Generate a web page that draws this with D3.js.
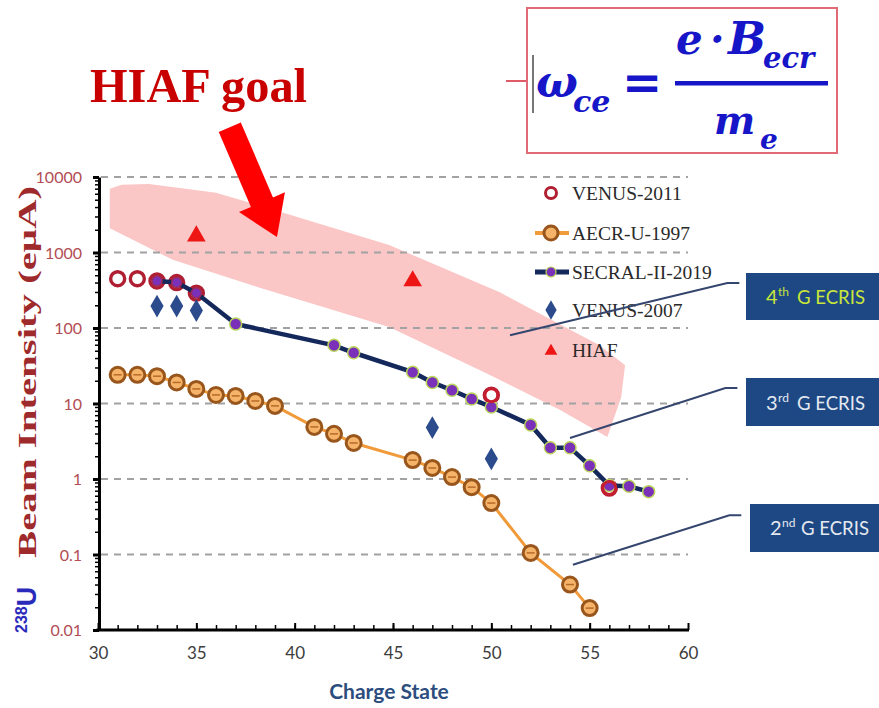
<!DOCTYPE html>
<html><head><meta charset="utf-8">
<script src="https://cdn.jsdelivr.net/npm/d3@7"></script>
<style>body{margin:0;background:#fff} svg{display:block}</style>
</head><body>
<svg id="chart" width="879" height="708"></svg>
<script>
// ---------------- data ----------------
const venus2011Q = [31,32,33,34,35,50,56];
const venus2011  = [450,450,420,400,290,12.9,0.76];

const aecrQ = [31,32,33,34,35,36,37,38,39,41,42,43,46,47,48,49,50,52,54,55];
const aecr  = [24,24,23,19,15.6,13,12.6,10.8,9.3,4.9,3.96,3.0,1.78,1.4,1.06,0.78,0.48,0.105,0.04,0.0195];

const secralQ = [33,34,35,37,42,43,46,47,48,49,50,52,53,54,55,56,57,58];
const secral  = [420,400,290,113,59,47,26,19,15,11.5,9,5.2,2.6,2.6,1.5,0.82,0.8,0.68];

const venus2007Q = [33,34,35,47,50];
const venus2007  = [195,195,170,4.8,1.85];

const hiafQ = [35,46];
const hiaf  = [1650,420];

// HIAF goal band (upper edge left->right, lower edge right->left)
const bandUpperQ = [30.6, 31.2, 32.6, 36.0, 39.8, 44.8, 50.4, 55.5, 56.8];
const bandUpper  = [7000, 7900, 8100, 6200, 3150, 1260, 300, 59, 32];
const bandLowerQ = [56.6, 55.9, 53.5, 49.9, 44.8, 38.1, 33.8, 30.6];
const bandLower  = [12, 3.6, 8.2, 24, 103, 350, 800, 2100];

const xTicks = [30,35,40,45,50,55,60];
const yTicks = [0.01,0.1,1,10,100,1000,10000];
const seriesNames = ["VENUS-2011","AECR-U-1997","SECRAL-II-2019","VENUS-2007","HIAF"];

// callout leader lines
const leaderFromQ = [50.95, 54.0, 54.15];
const leaderFromI = [80, 3.5, 0.073];
const leaderToQ   = [62.0, 61.9, 62.1];
const leaderToI   = [394, 16, 0.33];
const calloutSup  = ["th","rd","nd"];
const calloutNum  = ["4","3","2"];

// arrow (data coordinates): tail -> tip
const arrowFrom = [36.7, 45700];
const arrowTo   = [39.1, 1600];

// ---------------- scales ----------------
const svg = d3.select("#chart");
const x = d3.scaleLinear().domain([30,60]).range([98,688]);
const y = d3.scaleLog().domain([0.01,10000]).range([630,177]);

// band
const bandPts = bandUpperQ.map((q,i)=>[x(q), y(bandUpper[i])])
  .concat(bandLowerQ.map((q,i)=>[x(q), y(bandLower[i])]));
svg.append("path")
  .attr("d", d3.line().curve(d3.curveLinearClosed)(bandPts))
  .attr("fill", "#fbc6c6");

// grid
svg.append("g").selectAll("line").data(yTicks.slice(1)).join("line")
  .attr("x1", x(30)+3).attr("x2", x(60))
  .attr("y1", d=>y(d)).attr("y2", d=>y(d))
  .attr("stroke", "#a2a2a2").attr("stroke-width", 2).attr("stroke-dasharray", "7,6");

// y axis minor ticks
const minorY = [];
for (let e=-2; e<4; e++) for (let m=2; m<10; m++) minorY.push(m*Math.pow(10,e));
svg.append("g").attr("transform", `translate(${x(30)+1},0)`)
  .call(d3.axisLeft(y).tickValues(minorY).tickSize(4).tickFormat(""))
  .call(g=>g.select(".domain").remove())
  .call(g=>g.selectAll("line").attr("stroke","#000").attr("stroke-width",1.5));
// y axis major
const yAxis = svg.append("g").attr("transform", `translate(${x(30)+1},0)`)
  .call(d3.axisLeft(y).tickValues(yTicks).tickSize(6).tickSizeOuter(0).tickPadding(11).tickFormat(d3.format("~g")));
yAxis.select(".domain").attr("stroke","#000").attr("stroke-width",3);
yAxis.selectAll("line").attr("stroke","#000").attr("stroke-width",3);
yAxis.selectAll("text").attr("fill","#b24d53").attr("font-family","Lato").attr("font-size",16).attr("dy","0.35em");

// x axis
const xMinor = d3.range(31,60);
svg.append("g").attr("transform", "translate(0,630)")
  .call(d3.axisBottom(x).tickValues(xMinor).tickSizeInner(-5).tickSizeOuter(0).tickFormat(""))
  .call(g=>g.select(".domain").remove())
  .call(g=>g.selectAll("line").attr("stroke","#000").attr("stroke-width",1.5));
const xAxis = svg.append("g").attr("transform", "translate(0,630)")
  .call(d3.axisBottom(x).tickValues(xTicks).tickSizeInner(-7).tickSizeOuter(0).tickPadding(20));
xAxis.select(".domain").attr("stroke","#000").attr("stroke-width",3).attr("d","M96.5,0H689");
xAxis.selectAll("line").attr("stroke","#000").attr("stroke-width",2);
xAxis.selectAll("text").attr("fill","#3c3c3c").attr("font-family","Lato").attr("font-size",17).attr("dy","0.5em");

// ---------------- series ----------------
// AECR-U-1997
const aecrPts = aecrQ.map((q,i)=>[x(q), y(aecr[i])]);
svg.append("path").attr("d", d3.line()(aecrPts)).attr("fill","none")
  .attr("stroke","#f09a3a").attr("stroke-width",3);
svg.append("g").selectAll("circle").data(aecrPts).join("circle")
  .attr("cx", d=>d[0]).attr("cy", d=>d[1]).attr("r", 7.5)
  .attr("fill","#f5b469").attr("stroke","#99561c").attr("stroke-width",3);
svg.append("g").selectAll("line").data(aecrPts).join("line")
  .attr("x1", d=>d[0]-4).attr("x2", d=>d[0]+4).attr("y1", d=>d[1]).attr("y2", d=>d[1])
  .attr("stroke","#b86a28").attr("stroke-width",1.5);

// VENUS-2011
const v11Pts = venus2011Q.map((q,i)=>[x(q), y(venus2011[i])]);
svg.append("g").selectAll("circle").data(v11Pts).join("circle")
  .attr("cx", d=>d[0]).attr("cy", d=>d[1]).attr("r", 7)
  .attr("fill","#fff").attr("stroke","#b01e32").attr("stroke-width",3.4);

// VENUS-2007
svg.append("g").selectAll("path").data(venus2007Q.map((q,i)=>[x(q), y(venus2007[i])])).join("path")
  .attr("transform", d=>`translate(${d[0]},${d[1]})`)
  .attr("d", d3.symbol(d3.symbolDiamond, 150)()).attr("fill","#2b4b8c");

// SECRAL-II-2019
const secPts = secralQ.map((q,i)=>[x(q), y(secral[i])]);
svg.append("path").attr("d", d3.line()(secPts)).attr("fill","none")
  .attr("stroke","#14285c").attr("stroke-width",4.5);
svg.append("g").selectAll("circle").data(secPts).join("circle")
  .attr("cx", d=>d[0]).attr("cy", d=>d[1]).attr("r", (d,i)=>secralQ[i]<=35 ? 5 : 6)
  .attr("fill","#7a30b8").attr("stroke",(d,i)=>secralQ[i]<=35 ? "#9a2a5a" : "#b9d65a").attr("stroke-width",1.5);

// VENUS-2011 ring at 50/56 drawn over SECRAL
svg.append("g").selectAll("circle").data(v11Pts.filter((d,i)=>venus2011Q[i]>=50)).join("circle")
  .attr("cx", d=>d[0]).attr("cy", d=>d[1]).attr("r", 6.5)
  .attr("fill","none").attr("stroke","#c41e30").attr("stroke-width",3);

// HIAF
svg.append("g").selectAll("path").data(hiafQ.map((q,i)=>[x(q), y(hiaf[i])])).join("path")
  .attr("transform", d=>`translate(${d[0]},${d[1]})`)
  .attr("d", d3.symbol(d3.symbolTriangle, 150)()).attr("fill","#ee1515");

// ---------------- legend ----------------
const lgY = [193,233,272,310,350];
const lg = svg.append("g");
lg.selectAll("text").data(seriesNames).join("text")
  .attr("x", 572).attr("y", (d,i)=>lgY[i]+7)
  .attr("font-family","Liberation Serif, Times New Roman, serif").attr("font-size",19.5)
  .attr("fill","#2a2a2a").text(d=>d);
lg.append("circle").attr("cx",551).attr("cy",lgY[0]).attr("r",5.5).attr("fill","#fff").attr("stroke","#b01e32").attr("stroke-width",3);
lg.append("line").attr("x1",535).attr("x2",569).attr("y1",lgY[1]).attr("y2",lgY[1]).attr("stroke","#f09a3a").attr("stroke-width",4);
lg.append("circle").attr("cx",551).attr("cy",lgY[1]).attr("r",7).attr("fill","#f5b469").attr("stroke","#99561c").attr("stroke-width",3);
lg.append("line").attr("x1",535).attr("x2",569).attr("y1",lgY[2]).attr("y2",lgY[2]).attr("stroke","#14285c").attr("stroke-width",5);
lg.append("circle").attr("cx",551).attr("cy",lgY[2]).attr("r",5).attr("fill","#7a30b8").attr("stroke","#b9d65a").attr("stroke-width",1.2);
lg.append("path").attr("transform",`translate(551,${lgY[3]})`).attr("d", d3.symbol(d3.symbolDiamond, 110)()).attr("fill","#2b4b8c");
lg.append("path").attr("transform",`translate(551,${lgY[4]+1})`).attr("d", d3.symbol(d3.symbolTriangle, 70)()).attr("fill","#ee1515");

// ---------------- callouts ----------------
svg.append("g").selectAll("path").data(leaderFromQ).join("path")
  .attr("d", (d,i)=>{
    const x0=x(d), y0=y(leaderFromI[i]), x1=x(leaderToQ[i]), y1=y(leaderToI[i]);
    return `M${x0},${y0}L${x1},${y1}h12`;
  })
  .attr("fill","none").attr("stroke","#34456e").attr("stroke-width",2);

const boxes = [{x:746,y:273,h:47,ty:304,col:"#c8e53a"},{x:746,y:378,h:48,ty:410,col:"#e4e8f0"},{x:750,y:504,h:48,ty:535,col:"#e4e8f0"}];
boxes.forEach((b,i)=>{
  svg.append("rect").attr("x",b.x).attr("y",b.y).attr("width",879-b.x).attr("height",b.h).attr("fill","#1d4884");
  const fnt = "Lato, Open Sans, sans-serif";
  svg.append("text").attr("x",b.x+20).attr("y",b.ty).attr("font-family",fnt).attr("font-size",20)
    .attr("fill",b.col).text(calloutNum[i]);
  svg.append("text").attr("x",b.x+32).attr("y",b.ty-8).attr("font-family",fnt).attr("font-size",12)
    .attr("fill",b.col).text(calloutSup[i]);
  svg.append("text").attr("x",b.x+51).attr("y",b.ty).attr("font-family",fnt).attr("font-size",20)
    .attr("fill",b.col).attr("textLength",68).attr("lengthAdjust","spacingAndGlyphs").text("G ECRIS");
});

// ---------------- axis titles ----------------
svg.append("text").attr("x", x(45)-4).attr("y", 699)
  .attr("text-anchor","middle").attr("font-family","Lato, sans-serif").attr("font-weight","bold")
  .attr("font-size",21).attr("fill","#2c4d7e").text("Charge State");

const yt = svg.append("g").attr("transform","translate(36,633) rotate(-90)");
const t238 = yt.append("text").attr("x",0).attr("y",0)
  .attr("font-family","Liberation Sans, Arial, sans-serif").attr("font-weight","bold").attr("fill","#2a2abb");
t238.append("tspan").attr("font-size",16).attr("dy",-9).text("238");
t238.append("tspan").attr("font-size",27).attr("dy",9).text("U");
yt.append("text").attr("x",75).attr("y",0)
  .attr("font-family","Liberation Serif, Times New Roman, serif").attr("font-weight","bold")
  .attr("font-size",26).attr("fill","#9e2a2c")
  .attr("textLength",372).attr("lengthAdjust","spacingAndGlyphs")
  .text("Beam Intensity (eμA)");

// ---------------- HIAF goal + arrow ----------------
svg.append("text").attr("x",90).attr("y",102)
  .attr("font-family","Liberation Serif, Times New Roman, serif").attr("font-weight","bold")
  .attr("font-size",48).attr("fill","#c80000")
  .attr("textLength",217).attr("lengthAdjust","spacingAndGlyphs").text("HIAF goal");

(function(){
  const T=[x(arrowFrom[0]), y(arrowFrom[1])], P=[x(arrowTo[0]), y(arrowTo[1])];
  const dx=P[0]-T[0], dy=P[1]-T[1], L=Math.hypot(dx,dy);
  const u=[dx/L,dy/L], n=[u[1],-u[0]];
  const hl=38, hw=25, sw=12;
  const B=[P[0]-hl*u[0], P[1]-hl*u[1]];
  const pts=[
    [T[0]+sw*n[0],T[1]+sw*n[1]],[B[0]+sw*n[0],B[1]+sw*n[1]],[B[0]+hw*n[0],B[1]+hw*n[1]],
    P,[B[0]-hw*n[0],B[1]-hw*n[1]],[B[0]-sw*n[0],B[1]-sw*n[1]],[T[0]-sw*n[0],T[1]-sw*n[1]]];
  svg.append("path").attr("d", d3.line().curve(d3.curveLinearClosed)(pts)).attr("fill","#ff0000");
})();

// ---------------- formula box ----------------
const fm = svg.append("g");
fm.append("line").attr("x1",506).attr("x2",527).attr("y1",81).attr("y2",81).attr("stroke","#e05a68").attr("stroke-width",2);
fm.append("rect").attr("x",527).attr("y",8).attr("width",310).attr("height",145)
  .attr("fill","none").attr("stroke","#e26a76").attr("stroke-width",2);
fm.append("line").attr("x1",533).attr("x2",533).attr("y1",55).attr("y2",113).attr("stroke","#777").attr("stroke-width",2);
const ff = "DejaVu Serif, serif";
const fcol = "#1616c8";
function ft(txt,xx,yy,size){
  fm.append("text").attr("x",xx).attr("y",yy).attr("font-family",ff).attr("font-style","italic")
    .attr("font-weight","bold").attr("font-size",size).attr("fill",fcol).text(txt);
}
ft("ω",536,97,44);
ft("ce",573,112,30);
fm.append("text").attr("x",622).attr("y",99).attr("font-family",ff).attr("font-weight","bold")
  .attr("font-size",48).attr("fill",fcol).text("=");
ft("e",676,54,42);
ft("·",710,54,42);
ft("B",728,54,45);
ft("ecr",763,68,29);
fm.append("rect").attr("x",675).attr("y",81).attr("width",153).attr("height",4.5).attr("fill",fcol);
ft("m",714,134,39);
ft("e",760,149,28);
</script>
</body></html>
